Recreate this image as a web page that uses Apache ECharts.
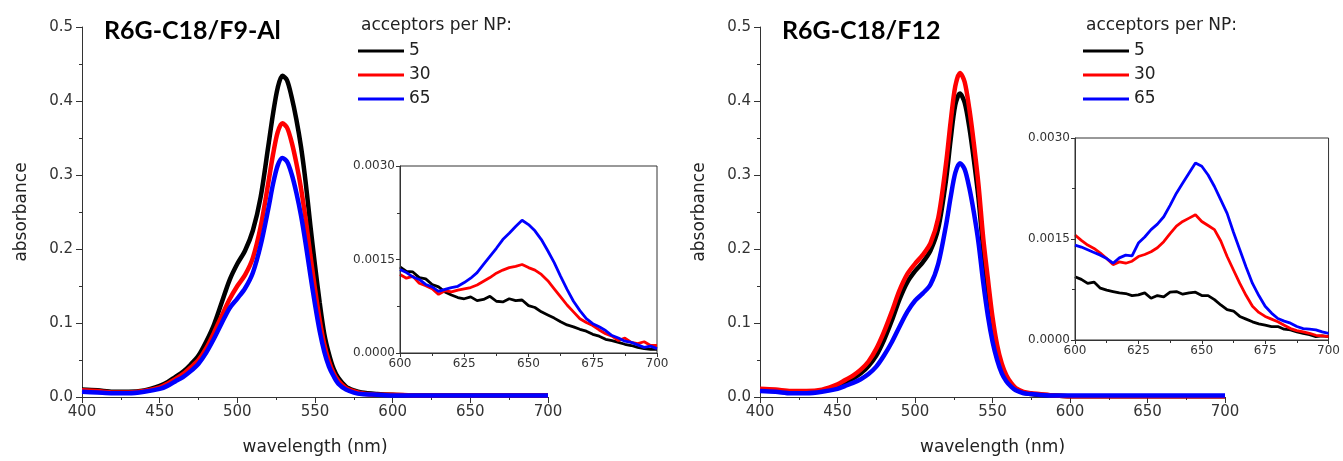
<!DOCTYPE html>
<html>
<head>
<meta charset="utf-8">
<title>R6G-C18 absorbance</title>
<script src="https://cdn.jsdelivr.net/npm/echarts@6/dist/echarts.min.js"></script>
<style>
    html, body {margin: 0; padding: 0; background: #fff;}
    #chart {width: 1343px; height: 461px;}
</style>
</head>
<body>
<div id="chart"></div>
<script>
// wavelength grid for the main spectra (nm)
var mainWl = [400, 410, 420, 430, 440, 450, 455, 460, 465, 470, 475, 480, 485, 490, 495, 500, 505, 510, 515, 520,
    523, 526, 529, 532, 535, 538, 541, 544, 547, 550, 553, 556, 559, 562, 565, 570, 575, 580, 590, 600, 620, 650, 680, 700];

// R6G-C18/F9-Al
var f9Black = [0.010, 0.009, 0.007, 0.007, 0.009, 0.015, 0.020, 0.027, 0.034, 0.044, 0.056, 0.075, 0.098, 0.128, 0.158, 0.180, 0.198, 0.225, 0.270, 0.340,
    0.383, 0.418, 0.434, 0.428, 0.405, 0.375, 0.338, 0.290, 0.232, 0.178, 0.128, 0.085, 0.058, 0.038, 0.026, 0.014, 0.009, 0.006, 0.004, 0.003, 0.002, 0.002, 0.002, 0.002];
var f9Red = [0.009, 0.008, 0.006, 0.006, 0.008, 0.013, 0.018, 0.024, 0.031, 0.040, 0.050, 0.066, 0.087, 0.110, 0.132, 0.150, 0.165, 0.188, 0.230, 0.290,
    0.328, 0.358, 0.370, 0.364, 0.344, 0.316, 0.282, 0.240, 0.192, 0.146, 0.104, 0.071, 0.048, 0.032, 0.022, 0.012, 0.008, 0.005, 0.003, 0.003, 0.002, 0.002, 0.002, 0.002];
var f9Blue = [0.007, 0.006, 0.005, 0.005, 0.007, 0.011, 0.015, 0.021, 0.027, 0.035, 0.045, 0.060, 0.079, 0.100, 0.120, 0.133, 0.147, 0.168, 0.205, 0.255,
    0.288, 0.313, 0.323, 0.318, 0.301, 0.276, 0.245, 0.207, 0.165, 0.125, 0.089, 0.061, 0.041, 0.028, 0.018, 0.010, 0.006, 0.004, 0.003, 0.002, 0.002, 0.002, 0.002, 0.002];

// R6G-C18/F12
var f12Black = [0.009, 0.008, 0.006, 0.006, 0.009, 0.015, 0.020, 0.025, 0.032, 0.042, 0.056, 0.077, 0.103, 0.132, 0.155, 0.170, 0.182, 0.198, 0.228, 0.293,
    0.348, 0.395, 0.410, 0.398, 0.365, 0.320, 0.268, 0.200, 0.145, 0.097, 0.063, 0.040, 0.026, 0.017, 0.011, 0.006, 0.004, 0.003, 0.002, 0.001, 0.001, 0.001, 0.001, 0.001];
var f12Red = [0.011, 0.010, 0.008, 0.008, 0.010, 0.017, 0.023, 0.029, 0.037, 0.048, 0.065, 0.088, 0.115, 0.144, 0.166, 0.180, 0.192, 0.208, 0.242, 0.315,
    0.372, 0.420, 0.438, 0.426, 0.390, 0.342, 0.286, 0.215, 0.160, 0.108, 0.070, 0.045, 0.029, 0.019, 0.012, 0.007, 0.005, 0.004, 0.002, 0.001, 0.001, 0.001, 0.001, 0.001];
var f12Blue = [0.008, 0.007, 0.005, 0.005, 0.007, 0.011, 0.015, 0.019, 0.024, 0.031, 0.041, 0.056, 0.074, 0.095, 0.115, 0.130, 0.140, 0.152, 0.180, 0.232,
    0.270, 0.303, 0.316, 0.308, 0.283, 0.249, 0.208, 0.155, 0.110, 0.075, 0.050, 0.032, 0.021, 0.014, 0.009, 0.005, 0.004, 0.003, 0.002, 0.002, 0.002, 0.002, 0.002, 0.002];

// inset wavelength grid (600-700 nm, 2.5 nm)
var insetWl = [600, 602.5, 605, 607.5, 610, 612.5, 615, 617.5, 620, 622.5, 625, 627.5, 630, 632.5, 635, 637.5, 640, 642.5, 645, 647.5,
    650, 652.5, 655, 657.5, 660, 662.5, 665, 667.5, 670, 672.5, 675, 677.5, 680, 682.5, 685, 687.5, 690, 692.5, 695, 697.5, 700];

var f9InsetBlack = [0.00138, 0.00131, 0.00130, 0.00121, 0.00119, 0.00110, 0.00106, 0.00098, 0.00093, 0.00089, 0.00087, 0.00090, 0.00084, 0.00086, 0.00091, 0.00083, 0.00082, 0.00087, 0.00084, 0.00085,
    0.00076, 0.00073, 0.00066, 0.00061, 0.00056, 0.00050, 0.00045, 0.00042, 0.00038, 0.00035, 0.00030, 0.00027, 0.00022, 0.00020, 0.00017, 0.00014, 0.00012, 0.00009, 0.00007, 0.00006, 0.00006];
var f9InsetRed = [0.00126, 0.00120, 0.00123, 0.00112, 0.00108, 0.00103, 0.00094, 0.00100, 0.00098, 0.00101, 0.00103, 0.00105, 0.00109, 0.00115, 0.00121, 0.00128, 0.00133, 0.00137, 0.00139, 0.00142,
    0.00137, 0.00133, 0.00126, 0.00116, 0.00103, 0.00090, 0.00077, 0.00066, 0.00055, 0.00049, 0.00044, 0.00037, 0.00031, 0.00027, 0.00020, 0.00024, 0.00017, 0.00015, 0.00018, 0.00012, 0.00012];
var f9InsetBlue = [0.00134, 0.00129, 0.00122, 0.00118, 0.00110, 0.00106, 0.00099, 0.00102, 0.00105, 0.00107, 0.00113, 0.00120, 0.00129, 0.00142, 0.00155, 0.00168, 0.00182, 0.00192, 0.00203, 0.00213,
    0.00206, 0.00196, 0.00182, 0.00164, 0.00145, 0.00123, 0.00102, 0.00083, 0.00068, 0.00055, 0.00047, 0.00042, 0.00036, 0.00028, 0.00024, 0.00019, 0.00017, 0.00013, 0.00009, 0.00011, 0.00007];

var f12InsetBlack = [0.00094, 0.00090, 0.00084, 0.00086, 0.00077, 0.00074, 0.00072, 0.00070, 0.00069, 0.00066, 0.00067, 0.00070, 0.00062, 0.00066, 0.00064, 0.00071, 0.00072, 0.00068, 0.00070, 0.00071,
    0.00066, 0.00066, 0.00060, 0.00052, 0.00045, 0.00043, 0.00035, 0.00031, 0.00027, 0.00024, 0.00022, 0.00020, 0.00020, 0.00016, 0.00015, 0.00012, 0.00010, 0.00008, 0.00005, 0.00006, 0.00005];
var f12InsetRed = [0.00156, 0.00148, 0.00141, 0.00136, 0.00129, 0.00121, 0.00112, 0.00116, 0.00114, 0.00117, 0.00124, 0.00127, 0.00131, 0.00137, 0.00146, 0.00158, 0.00169, 0.00176, 0.00181, 0.00186,
    0.00176, 0.00170, 0.00164, 0.00147, 0.00124, 0.00104, 0.00084, 0.00066, 0.00050, 0.00041, 0.00035, 0.00031, 0.00027, 0.00022, 0.00017, 0.00014, 0.00012, 0.00010, 0.00007, 0.00006, 0.00005];
var f12InsetBlue = [0.00141, 0.00138, 0.00134, 0.00130, 0.00126, 0.00121, 0.00114, 0.00122, 0.00126, 0.00125, 0.00144, 0.00153, 0.00164, 0.00172, 0.00183, 0.00200, 0.00218, 0.00233, 0.00248, 0.00263,
    0.00258, 0.00245, 0.00228, 0.00208, 0.00188, 0.00160, 0.00134, 0.00108, 0.00084, 0.00066, 0.00050, 0.00040, 0.00032, 0.00028, 0.00025, 0.00020, 0.00017, 0.00016, 0.00015, 0.00012, 0.00010];

var seriesNames = ["5", "30", "65"];
var seriesColors = ["#000000", "#ff0000", "#0000ff"];

var fontMain = "DejaVu Sans";

function zip(xs, ys) {
    var out = [];
    for (var i = 0; i < xs.length; i++) {
        out.push([xs[i], ys[i]]);
    }
    return out;
}

function makeXAxis(gridIndex, min, max, interval, isInset) {
    return {
        type: 'value',
        gridIndex: gridIndex,
        min: min,
        max: max,
        interval: interval,
        name: isInset ? '' : 'wavelength (nm)',
        nameLocation: 'middle',
        nameGap: 42,
        nameTextStyle: {fontFamily: fontMain, fontSize: 17, color: '#222'},
        axisLine: {show: true, lineStyle: {color: '#333', width: 1}},
        axisTick: {show: true, length: isInset ? 4 : 6, lineStyle: {color: '#333'}},
        minorTick: {show: true, splitNumber: 2, length: 3, lineStyle: {color: '#333'}},
        splitLine: {show: false},
        axisLabel: {fontFamily: fontMain, fontSize: isInset ? 12 : 15, color: '#333', margin: isInset ? 5 : 8},
        boundaryGap: false,
        z: isInset ? 12 : 2
    };
}

function makeYAxis(gridIndex, max, interval, isInset) {
    return {
        type: 'value',
        gridIndex: gridIndex,
        min: 0,
        max: max,
        interval: interval,
        name: isInset ? '' : 'absorbance',
        nameLocation: 'middle',
        nameRotate: 90,
        nameGap: 52,
        nameTextStyle: {fontFamily: fontMain, fontSize: 17, color: '#222'},
        axisLine: {show: true, lineStyle: {color: '#333', width: 1}},
        axisTick: {show: true, length: isInset ? 4 : 6, lineStyle: {color: '#333'}},
        minorTick: {show: true, splitNumber: 2, length: 3, lineStyle: {color: '#333'}},
        splitLine: {show: false},
        axisLabel: {
            fontFamily: fontMain, fontSize: isInset ? 12 : 15, color: '#333', margin: isInset ? 5 : 9,
            formatter: function (v) {
                return isInset ? v.toFixed(4) : v.toFixed(1);
            }
        },
        z: isInset ? 12 : 2
    };
}

function makeSeries(idx, ysList, xs, width, isInset) {
    var out = [];
    for (var i = 0; i < ysList.length; i++) {
        out.push({
            name: seriesNames[i],
            type: 'line',
            xAxisIndex: idx,
            yAxisIndex: idx,
            data: zip(xs, ysList[i]),
            showSymbol: false,
            smooth: isInset ? false : 0.3,
            lineStyle: {color: seriesColors[i], width: width},
            itemStyle: {color: seriesColors[i]},
            z: (isInset ? 10 : 2) + i
        });
    }
    return out;
}

var myChart = echarts.init(document.getElementById('chart'), null, {renderer: 'canvas'});

var series = []
    .concat(makeSeries(0, [f9Black, f9Red, f9Blue], mainWl, 4.5, false))
    .concat(makeSeries(1, [f9InsetBlack, f9InsetRed, f9InsetBlue], insetWl, 2.8, true))
    .concat(makeSeries(2, [f12Black, f12Red, f12Blue], mainWl, 4.5, false))
    .concat(makeSeries(3, [f12InsetBlack, f12InsetRed, f12InsetBlue], insetWl, 2.8, true));

var legendCommon = {
    orient: 'vertical',
    top: 36,
    icon: 'rect',
    itemWidth: 46,
    itemHeight: 3,
    itemGap: 4,
    data: seriesNames,
    selectedMode: false,
    textStyle: {fontFamily: fontMain, fontSize: 17, color: '#222', lineHeight: 20}
};

var option = {
    animation: false,
    backgroundColor: '#fff',
    title: [
        {text: 'R6G-C18/F9-Al', left: 99, top: 13, textStyle: {fontFamily: 'Lato', fontWeight: 'bold', fontSize: 25, color: '#000'}},
        {text: 'acceptors per NP:', left: 356, top: 12, textStyle: {fontFamily: fontMain, fontWeight: 'normal', fontSize: 17, color: '#222'}},
        {text: 'R6G-C18/F12', left: 777, top: 13, textStyle: {fontFamily: 'Lato', fontWeight: 'bold', fontSize: 25, color: '#000'}},
        {text: 'acceptors per NP:', left: 1081, top: 12, textStyle: {fontFamily: fontMain, fontWeight: 'normal', fontSize: 17, color: '#222'}}
    ],
    legend: [
        Object.assign({left: 353}, legendCommon),
        Object.assign({left: 1078}, legendCommon)
    ],
    grid: [
        {left: 82, top: 27, width: 466, height: 375},
        {left: 400, top: 166, width: 257, height: 187, show: true, backgroundColor: '#fff', borderColor: '#333', borderWidth: 1, z: 5},
        {left: 760, top: 27, width: 465, height: 375},
        {left: 1075, top: 138, width: 257, height: 202, show: true, backgroundColor: '#fff', borderColor: '#333', borderWidth: 1, z: 5}
    ],
    xAxis: [
        makeXAxis(0, 400, 700, 50, false),
        makeXAxis(1, 600, 700, 25, true),
        makeXAxis(2, 400, 700, 50, false),
        makeXAxis(3, 600, 700, 25, true)
    ],
    yAxis: [
        makeYAxis(0, 0.5, 0.1, false),
        makeYAxis(1, 0.003, 0.0015, true),
        makeYAxis(2, 0.5, 0.1, false),
        makeYAxis(3, 0.003, 0.0015, true)
    ],
    series: series
};

myChart.setOption(option);
</script>
</body>
</html>
